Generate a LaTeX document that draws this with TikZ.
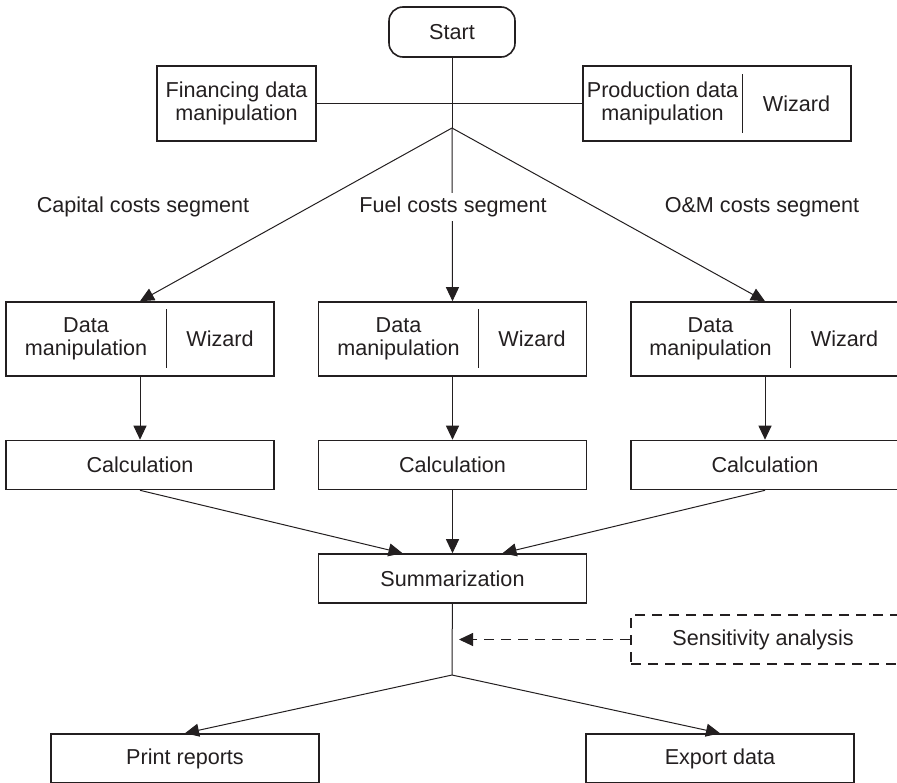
\documentclass[tikz,border=0pt]{standalone}
\usepackage{fontspec}
\setmainfont{Liberation Sans}
\usetikzlibrary{arrows.meta,calc}
\definecolor{ink}{HTML}{231F20}
\tikzset{
  >={Triangle[length=7pt,width=6.5pt]},
  flow/.style={->, line width=0.5pt, draw=ink},
  link/.style={line width=0.5pt, draw=ink},
  dashflow/.style={flow, dash pattern=on 5pt off 3.5pt},
  box/.style={draw=ink, line width=0.8pt, text=ink, align=center, inner sep=2pt,
              minimum width=134pt, minimum height=24.5pt},
  tall/.style={box, minimum height=37pt},
  edge/.style={minimum width=140pt},
  txt/.style={text=ink, align=center, inner sep=1pt},
  seg/.style={txt, fill=white, inner sep=2pt},
}

\begin{document}
\begin{tikzpicture}[x=0.5pt, y=-0.5pt, font=\fontsize{10.8}{11.8}\selectfont]
\useasboundingbox (0,0) rectangle (897,782);

% --- top: start and side data -----------------------------------------------------------
\node[box, rounded corners=7pt, minimum width=63pt, minimum height=25pt] (start) at (452,32) {Start};
\node[tall, minimum width=79.5pt, minimum height=37.5pt] (fin) at (236.5,103.5) {Financing data\\manipulation};
\node[tall, minimum height=37.5pt] (prod) at (717,103.5) {};
\node[txt] (prodtxt) at (662.5,103.5) {Production data\\manipulation};
\node[txt] (prodwiz) at (796.5,103.5) {Wizard};
\draw[link] ($(prod.north)+(25,9)$) -- ($(prod.south)+(25,-9)$);
\coordinate (split) at (452,128);

\draw[link] (fin) -- (prod);
\draw[link] (start) -- (split);

% --- three cost segments ----------------------------------------------------------------
\node[tall] (dcap) at (140,339) {};
\node[txt] (dcaptxt) at (86,339) {Data\\manipulation};
\node[txt] (dcapwiz) at (220,339) {Wizard};
\draw[link] ($(dcap.north)+(26,8)$) -- ($(dcap.south)+(26,-9)$);

\node[tall] (dfuel) at (452.5,339) {};
\node[txt] (dfueltxt) at (398.5,339) {Data\\manipulation};
\node[txt] (dfuelwiz) at (532,339) {Wizard};
\draw[link] ($(dfuel.north)+(25.5,8)$) -- ($(dfuel.south)+(25.5,-9)$);

\node[tall, edge] (dom) at (771,339) {};
\node[txt] (domtxt) at (710.5,339) {Data\\manipulation};
\node[txt] (domwiz) at (844.5,339) {Wizard};
\draw[link] ($(dom.north)+(19,8)$) -- ($(dom.south)+(19,-9)$);

\node[box] (ccap) at (140,465) {Calculation};
\node[box] (cfuel) at (452.5,465) {Calculation};
\node[box, edge] (com) at (771,465) {\hspace*{-6pt}Calculation};

\draw[flow] (split) -- (dcap.north);
\draw[flow] (split) -- (dfuel.north);
\draw[flow] (split) -- ($(dom.north)+(-6,0)$);
\node[seg] (lcap) at (143,207) {Capital costs segment};
\node[seg] (lfuel) at (453,207) {Fuel costs segment};
\node[seg] (lom) at (762,207) {O\&M costs segment};

\draw[flow] ($(dom.south)+(-6,0)$) -- ($(com.north)+(-6,0)$);
\draw[flow] (dcap) -- (ccap);
\draw[flow] (dfuel) -- (cfuel);

% --- summary and output -----------------------------------------------------------------
\node[box] (summ) at (452.5,578.5) {Summarization};
\node[box, edge, dash pattern=on 5pt off 3.5pt] (sens) at (771,639.5) {\hspace*{-8pt}Sensitivity analysis};
\node[box] (print) at (185,758.5) {Print reports};
\node[box] (export) at (720,758.5) {Export data};
\coordinate (fork) at (452,675);

\draw[flow] ($(com.south)+(-6,0)$) -- ($(summ.north)+(50,0)$);
\draw[flow] (ccap.south) -- ($(summ.north)+(-50,0)$);
\draw[flow] (cfuel) -- (summ);
\draw[link] (summ) -- (fork);
\draw[dashflow, shorten >=3.5pt] (sens) -- (fork |- sens.west);
\draw[flow] (fork) -- (print.north);
\draw[flow] (fork) -- (export.north);

\end{tikzpicture}
\end{document}
